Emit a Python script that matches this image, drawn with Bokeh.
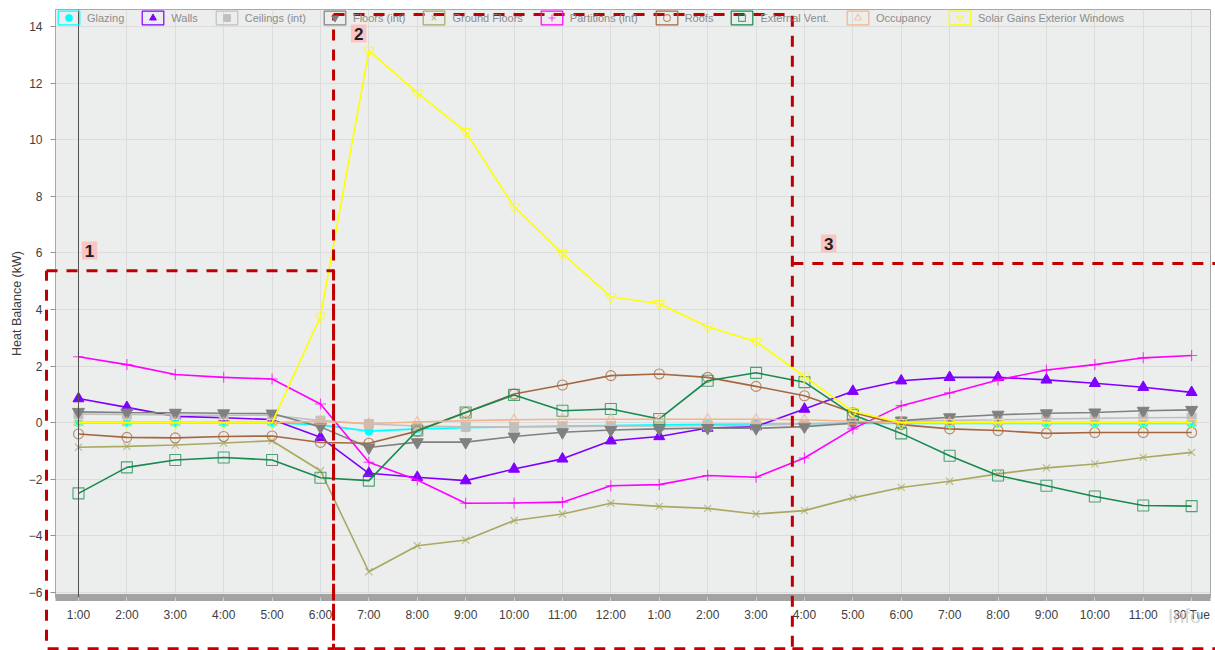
from bokeh.plotting import figure
from bokeh.models import (Range1d, FixedTicker, Span, Label, Legend, LegendItem)
from bokeh.core.properties import value
from bokeh.embed import file_html
from bokeh.resources import INLINE

hours = ["1:00", "2:00", "3:00", "4:00", "5:00", "6:00", "7:00", "8:00", "9:00", "10:00",
         "11:00", "12:00", "1:00", "2:00", "3:00", "4:00", "5:00", "6:00", "7:00", "8:00",
         "9:00", "10:00", "11:00", "30 Tue"]
idx = list(range(len(hours)))

glazing = [0.0, 0.0, 0.0, 0.0, 0.0, -0.08, -0.3, -0.22, -0.18, -0.15, -0.12, -0.1, -0.08,
           -0.06, -0.05, -0.04, -0.03, -0.03, -0.03, -0.03, -0.03, -0.03, -0.03, -0.03]
walls = [0.85, 0.54, 0.22, 0.17, 0.11, -0.52, -1.79, -1.93, -2.05, -1.64, -1.28, -0.64, -0.49,
         -0.19, -0.14, 0.48, 1.11, 1.48, 1.6, 1.6, 1.51, 1.39, 1.25, 1.07]
ceilings = [0.3, 0.29, 0.27, 0.26, 0.26, 0.07, -0.05, -0.12, -0.15, -0.15, -0.14, -0.13, -0.12,
            -0.1, -0.1, -0.05, 0.0, 0.05, 0.08, 0.1, 0.13, 0.15, 0.17, 0.18]
floors = [0.38, 0.36, 0.35, 0.33, 0.32, -0.15, -0.88, -0.69, -0.69, -0.49, -0.34, -0.26, -0.22,
          -0.19, -0.2, -0.14, -0.02, 0.07, 0.19, 0.28, 0.33, 0.36, 0.42, 0.45]
ground_floors = [-0.87, -0.84, -0.79, -0.72, -0.64, -1.7, -5.27, -4.35, -4.15, -3.46, -3.23, -2.85,
                 -2.96, -3.03, -3.23, -3.11, -2.66, -2.29, -2.07, -1.81, -1.6, -1.46, -1.23, -1.05]
partitions = [2.33, 2.05, 1.7, 1.6, 1.54, 0.66, -1.4, -2.03, -2.85, -2.84, -2.81, -2.23, -2.19,
              -1.87, -1.93, -1.25, -0.22, 0.6, 1.05, 1.51, 1.86, 2.05, 2.29, 2.37]
roofs = [-0.4, -0.52, -0.54, -0.49, -0.47, -0.7, -0.73, -0.3, 0.36, 1.01, 1.33, 1.66, 1.72,
         1.6, 1.28, 0.95, 0.36, -0.07, -0.22, -0.28, -0.38, -0.35, -0.35, -0.35]
external_vent = [-2.5, -1.58, -1.32, -1.23, -1.32, -1.95, -2.05, -0.28, 0.36, 0.98, 0.42, 0.48,
                 0.13, 1.48, 1.76, 1.43, 0.28, -0.38, -1.17, -1.87, -2.23, -2.61, -2.93, -2.95]
occupancy = [0.0, 0.0, 0.0, 0.0, 0.0, 0.05, -0.03, 0.02, 0.07, 0.1, 0.12, 0.12, 0.12, 0.12,
             0.12, 0.1, 0.05, 0.0, 0.0, 0.0, 0.0, 0.0, 0.0, 0.0]
solar_gains = [0.0, 0.0, 0.0, 0.0, 0.0, 3.75, 13.15, 11.65, 10.28, 7.63, 5.97, 4.45, 4.2, 3.39,
               2.86, 1.63, 0.4, 0.0, 0.0, 0.0, 0.0, 0.0, 0.0, 0.0]

series_names = ["Glazing", "Walls", "Ceilings (int)", "Floors (int)", "Ground Floors",
                "Partitions (int)", "Roofs", "External Vent.", "Occupancy",
                "Solar Gains Exterior Windows"]
series_values = [glazing, walls, ceilings, floors, ground_floors, partitions, roofs,
                 external_vent, occupancy, solar_gains]

# style: (line color, marker, marker size, filled)
styles = [
    ("#00FFFF", "circle", 8, True),
    ("#8000FF", "triangle", 11, True),
    ("#C0C0C0", "square", 9, True),
    ("#808080", "inverted_triangle", 12, True),
    ("#A8A860", "x", 10, False),
    ("#FF00FF", "cross", 11, False),
    ("#A5673F", "circle", 10, False),
    ("#178A4E", "square", 11, False),
    ("#F2B48C", "triangle", 10, False),
    ("#FFFF00", "inverted_triangle", 11, False),
]

FONT = "Liberation Sans"

p = figure(width=1215, height=650, output_backend="svg", toolbar_location=None,
           x_range=Range1d(-0.475, 23.39), y_range=Range1d(-6.18, 14.6),
           min_border_left=55, min_border_right=5, min_border_top=9, min_border_bottom=53)
p.background_fill_color = "#ECEDED"
p.border_fill_color = "white"
p.outline_line_color = "#A8A8A8"

p.xaxis.ticker = FixedTicker(ticks=idx)
p.xaxis.major_label_overrides = {i: h for i, h in zip(idx, hours)}
p.yaxis.ticker = FixedTicker(ticks=[-6, -4, -2, 0, 2, 4, 6, 8, 10, 12, 14])
for ax in (p.xaxis[0], p.yaxis[0]):
    ax.major_label_text_font = FONT
    ax.major_label_text_font_size = "12px"
    ax.major_label_text_color = "#404040"
    ax.minor_tick_line_color = None
p.yaxis.axis_label = "Heat Balance (kW)"
p.yaxis.axis_label_text_font = FONT
p.yaxis.axis_label_text_font_size = "12.5px"
p.yaxis.axis_label_text_font_style = "normal"
p.yaxis.axis_label_text_color = "#404040"
p.yaxis.axis_line_color = "#A8A8A8"
p.yaxis.major_tick_line_color = "#909090"
p.yaxis.major_tick_out = 5
p.yaxis.major_tick_in = 0
p.yaxis.major_label_standoff = 8
p.yaxis.axis_label_standoff = 2

p.xaxis.axis_line_color = "#A3A3A3"
p.xaxis.axis_line_width = 7
p.xaxis.major_tick_line_color = "#D5D5D5"
p.xaxis.major_tick_in = 0
p.xaxis.major_tick_out = 4
p.xaxis.major_label_standoff = 6

p.xgrid.grid_line_color = "#DCDCDC"
p.ygrid.grid_line_color = "#DCDCDC"

# cursor line at first hour
p.add_layout(Span(location=idx[0], dimension="height", line_color="#505050", line_width=1))

items = []
for name, vals, (col, mk, sz, filled) in zip(series_names, series_values, styles):
    p.line(idx, vals, line_color=col, line_width=1.6)
    if filled:
        sc = p.scatter(idx, vals, marker=mk, size=sz, fill_color=col, line_color=col)
    else:
        sc = p.scatter(idx, vals, marker=mk, size=sz, fill_color=None, line_color=col,
                       line_alpha=0.75, line_width=1.1)
    box = p.rect(x=[-100], y=[-100], width=1, height=1, fill_color=None, line_color=col,
                 line_width=1.2)
    items.append(LegendItem(label=name, renderers=[box, sc]))

legend = Legend(items=items, orientation="horizontal", location="top_left",
                glyph_width=27, glyph_height=17, label_standoff=5, spacing=15,
                margin=0, padding=1, border_line_color=None, background_fill_alpha=0,
                label_text_font=FONT, label_text_font_size="11px", label_text_color="#8C8C8C")
p.add_layout(legend, "center")

# annotation boxes (data units): left, right, top, bottom
RED = "#C00000"
box1 = (-0.661, 5.27, 5.37, -7.99)
box2 = (5.27, 14.75, 14.42, -7.99)
box3 = (14.75, 24.5, 5.62, -7.99)
bx, by = [], []
for l, r, t, b in (box1, box2):
    bx.append([l, r, r, l, l])
    by.append([t, t, b, b, t])
# box 3 shares its left edge with box 2's right edge; its right edge lies off-canvas
bx.append([box3[0], box3[1]])
by.append([box3[2], box3[2]])
bx.append([box3[0], box3[1]])
by.append([box3[3], box3[3]])
p.multi_line(bx, by, line_color=RED, line_width=3, line_dash="11 9", level="overlay")

for txt, x, y in [("1", 0.227, 6.08), ("2", 5.79, 13.75), ("3", 15.5, 6.33)]:
    p.add_layout(Label(x=x, y=y, text=txt, text_font=FONT, text_font_size="17px",
                       text_font_style="bold", text_color="#202020", text_align="center",
                       text_baseline="middle", background_fill_color="#FFBDBD",
                       background_fill_alpha=0.85, padding=3))
p.text(x=[22.85], y=[-6.85], text=["Info"], text_font=value(FONT), text_font_size="20px",
       text_color="#C8C8C8", text_alpha=0.8, text_align="center", text_baseline="middle",
       level="overlay")

open("out.html", "w").write(file_html(p, INLINE))
